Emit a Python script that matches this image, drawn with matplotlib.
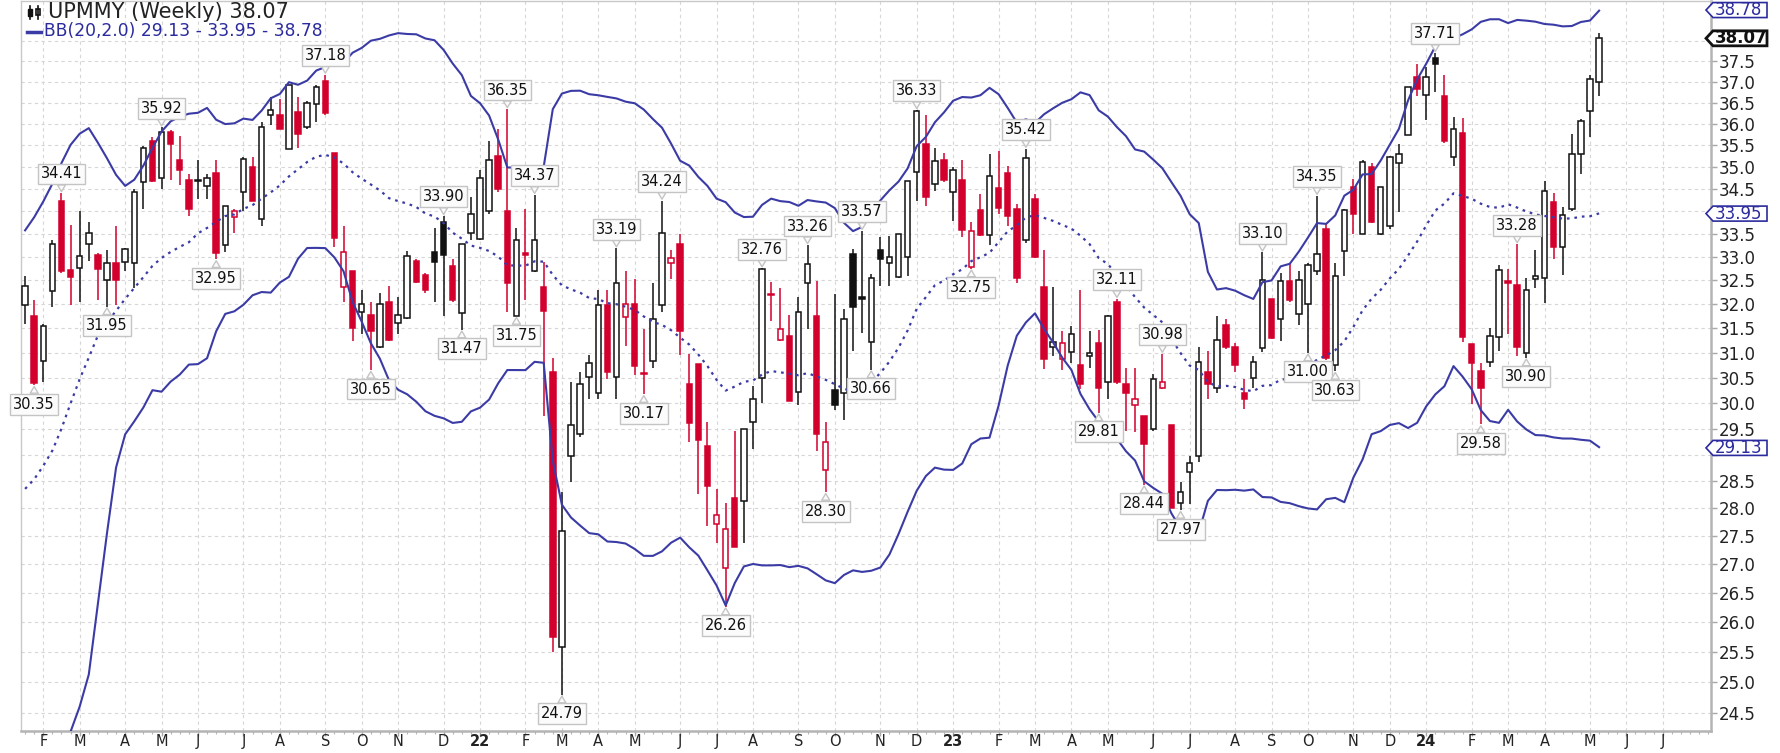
import numpy as np
import pandas as pd
import matplotlib
matplotlib.use('Agg')
import matplotlib.pyplot as plt
from matplotlib.patches import Polygon, Rectangle
from matplotlib.lines import Line2D
from matplotlib.ticker import NullLocator
from pandas.tseries.holiday import USFederalHolidayCalendar

W, H = 1781, 753
ticker = 'UPMMY'
first_week = '2021-01-18'

# weekly candles
opens = [31.99, 31.76, 30.83, 32.27, 34.22, 32.72, 32.77, 33.29, 33.05, 32.51,
         32.87, 32.90, 32.87, 34.65, 35.61, 34.76, 35.82, 35.17, 34.71, 34.68,
         34.56, 34.87, 33.26, 33.87, 34.43, 35.00, 33.82, 36.20, 36.20, 35.42,
         36.28, 35.93, 36.46, 37.03, 35.31, 32.36, 32.70, 31.83, 31.78, 31.12,
         32.04, 31.61, 31.71, 32.92, 32.61, 33.11, 33.77, 32.81, 31.81, 33.53,
         33.39, 34.00, 35.26, 34.00, 31.76, 33.08, 32.70, 32.36, 30.61, 25.57,
         28.98, 29.39, 30.52, 30.19, 31.99, 30.52, 31.73, 32.01, 30.59, 30.84,
         31.99, 32.87, 33.29, 30.37, 30.78, 29.16, 27.72, 26.94, 28.20, 28.14,
         29.62, 30.49, 32.22, 31.26, 31.34, 30.22, 32.44, 31.76, 28.72, 30.26,
         30.20, 33.06, 32.14, 31.22, 33.16, 32.87, 32.57, 33.00, 34.89, 35.53,
         34.62, 35.17, 34.43, 34.71, 32.79, 34.02, 33.47, 34.52, 34.86, 34.05,
         33.38, 34.28, 32.36, 31.12, 30.87, 31.02, 30.76, 30.93, 31.19, 30.42,
         32.04, 30.37, 29.95, 29.75, 29.50, 30.30, 29.57, 28.10, 28.68, 28.98,
         30.61, 30.30, 31.56, 31.12, 30.20, 30.50, 31.09, 32.10, 31.68, 32.49,
         31.80, 32.00, 32.69, 33.60, 30.75, 33.12, 34.55, 33.49, 35.01, 33.49,
         33.68, 35.08, 35.74, 37.12, 36.68, 37.58, 36.66, 35.22, 35.78, 31.17,
         30.64, 30.82, 31.32, 32.48, 32.41, 31.00, 32.53, 32.55, 34.20, 33.21,
         34.05, 35.30, 36.30, 37.01]
highs = [32.59, 32.09, 31.58, 33.36, 34.41, 33.70, 34.00, 33.77, 33.08, 33.16,
         33.68, 33.20, 34.49, 35.48, 35.70, 35.92, 35.85, 35.72, 34.83, 35.15,
         34.83, 35.15, 34.13, 34.06, 35.23, 35.23, 36.05, 36.63, 36.60, 36.93,
         36.63, 36.55, 36.93, 37.18, 35.31, 33.68, 32.70, 32.29, 32.04, 32.24,
         32.39, 32.14, 33.14, 32.95, 32.66, 33.63, 33.90, 32.95, 33.29, 34.31,
         34.92, 35.59, 35.87, 36.35, 33.63, 34.06, 34.37, 32.90, 30.90, 28.31,
         30.42, 30.61, 30.95, 32.29, 32.29, 33.19, 32.70, 32.54, 31.48, 32.44,
         34.24, 33.16, 33.50, 30.97, 30.78, 29.62, 28.35, 28.10, 29.45, 29.50,
         30.33, 32.76, 32.46, 32.34, 31.78, 32.14, 33.26, 32.49, 29.62, 32.22,
         31.90, 33.18, 33.57, 32.64, 33.43, 33.45, 33.50, 34.67, 36.33, 36.20,
         35.44, 35.33, 35.00, 35.15, 33.77, 34.38, 35.29, 35.36, 35.03, 34.16,
         35.42, 34.38, 33.16, 32.36, 31.45, 31.54, 32.29, 31.45, 31.46, 31.78,
         32.11, 30.70, 30.70, 29.75, 30.58, 30.98, 29.57, 28.48, 28.97, 31.11,
         31.04, 31.75, 31.68, 31.19, 30.47, 30.93, 33.10, 32.10, 32.66, 32.87,
         32.69, 32.87, 34.35, 33.75, 32.87, 34.06, 34.72, 35.17, 35.10, 34.54,
         35.25, 35.53, 36.87, 37.44, 37.36, 37.71, 37.17, 36.16, 36.14, 31.17,
         30.79, 31.50, 32.83, 32.75, 33.28, 32.56, 33.16, 34.67, 34.40, 34.10,
         35.77, 36.12, 37.18, 38.20]
lows = [31.59, 30.35, 30.42, 31.94, 32.65, 31.99, 32.04, 32.91, 32.09, 31.95,
        31.98, 32.70, 32.34, 34.06, 34.65, 34.49, 34.71, 34.60, 33.90, 34.27,
        34.27, 32.95, 33.11, 33.53, 34.00, 34.22, 33.68, 35.98, 35.87, 35.42,
        35.44, 35.87, 36.04, 36.20, 33.21, 32.04, 31.24, 31.39, 30.65, 31.09,
        31.24, 31.39, 31.69, 32.44, 32.24, 32.04, 31.76, 32.04, 31.47, 33.36,
        33.36, 33.95, 34.43, 31.83, 31.75, 32.09, 32.68, 29.75, 25.49, 24.79,
        28.48, 29.34, 30.08, 30.08, 30.47, 30.08, 31.14, 30.56, 30.17, 30.70,
        31.83, 32.54, 30.95, 29.24, 28.26, 27.68, 27.38, 26.26, 27.30, 27.38,
        29.11, 29.99, 31.65, 31.24, 30.04, 29.95, 31.48, 29.08, 28.30, 29.86,
        29.67, 31.04, 31.40, 30.66, 32.39, 32.39, 32.55, 32.59, 34.24, 34.13,
        34.45, 34.65, 33.79, 33.43, 32.75, 33.46, 33.27, 33.95, 33.68, 32.44,
        33.31, 32.97, 30.68, 30.93, 30.66, 30.80, 30.28, 30.70, 29.81, 30.08,
        30.37, 29.45, 29.43, 28.44, 29.45, 30.28, 28.00, 27.97, 28.08, 28.87,
        30.08, 30.20, 31.07, 30.61, 29.88, 30.30, 31.02, 31.27, 31.24, 32.04,
        31.56, 31.00, 32.62, 30.85, 30.63, 32.59, 33.49, 33.49, 33.74, 33.47,
        33.61, 33.99, 35.74, 36.65, 36.10, 36.75, 35.56, 35.03, 31.22, 29.98,
        29.58, 30.72, 31.04, 31.39, 30.93, 30.90, 32.34, 32.02, 32.95, 32.62,
        34.00, 34.84, 35.70, 36.65]
closes = [32.39, 30.40, 31.55, 33.29, 32.70, 32.57, 33.02, 33.53, 32.74, 32.87,
          32.51, 33.18, 34.43, 35.43, 34.67, 35.82, 35.53, 34.92, 34.06, 34.70,
          34.74, 33.08, 34.13, 34.00, 35.18, 34.24, 35.93, 36.33, 35.89, 36.93,
          35.77, 36.50, 36.89, 36.25, 33.42, 33.11, 31.51, 32.00, 31.44, 32.01,
          31.26, 31.78, 33.02, 32.46, 32.29, 32.90, 33.05, 32.09, 33.29, 33.93,
          34.76, 35.15, 34.49, 32.44, 33.36, 33.05, 33.38, 31.86, 25.74, 27.59,
          29.57, 30.37, 30.80, 31.99, 30.61, 32.44, 32.01, 30.74, 30.57, 31.68,
          33.53, 32.97, 31.44, 29.60, 29.29, 28.41, 27.88, 27.62, 27.30, 29.50,
          30.08, 32.75, 32.20, 31.49, 30.04, 31.83, 32.85, 29.39, 29.25, 29.96,
          31.70, 31.95, 32.11, 32.56, 32.95, 32.99, 33.50, 34.67, 36.31, 34.32,
          35.13, 34.71, 34.92, 33.58, 33.57, 33.47, 34.79, 34.08, 33.90, 32.56,
          35.21, 33.00, 30.87, 31.22, 31.19, 31.38, 30.37, 31.00, 30.30, 31.76,
          30.42, 30.20, 30.07, 29.20, 30.47, 30.42, 28.00, 28.30, 28.85, 30.82,
          30.37, 31.26, 31.12, 30.76, 30.07, 30.82, 32.51, 31.29, 32.48, 32.08,
          32.51, 32.82, 33.07, 30.89, 32.60, 34.02, 33.93, 35.12, 33.76, 34.54,
          35.22, 35.29, 36.87, 36.82, 37.12, 37.44, 35.60, 35.87, 31.32, 30.80,
          30.30, 31.35, 32.73, 32.45, 31.12, 32.30, 32.60, 34.46, 33.21, 33.91,
          35.30, 36.07, 37.07, 38.07]

# band values for the first weeks, before 20 closes are available
bb_upper_start = [33.58, 33.87, 34.22, 34.62, 35.09, 35.51, 35.77, 35.90, 35.56, 35.20,
                  34.82, 34.57, 34.71, 35.03, 35.44, 35.82, 36.06, 36.17, 36.24]
bb_mid_start = [28.36, 28.54, 28.79, 29.08, 29.50, 29.99, 30.47, 30.90, 31.35, 31.62,
                31.86, 32.11, 32.34, 32.57, 32.81, 32.98, 33.11, 33.22, 33.32]
bb_lower_start = [np.nan, np.nan, np.nan, np.nan, 23.70, 24.20, 24.60, 25.12, 26.30, 27.55,
                  28.76, 29.39, 29.64, 29.91, 30.25, 30.22, 30.42, 30.56, 30.76]

# last band values (lower, middle, upper)
bb_last = [29.13, 33.95, 38.78]

# labelled swing highs / lows: (week, 'H' or 'L')
callouts = [(1, 'L'), (4, 'H'), (9, 'L'), (15, 'H'), (21, 'L'), (33, 'H'), (38, 'L'),
            (46, 'H'), (48, 'L'), (53, 'H'), (54, 'L'), (56, 'H'), (59, 'L'), (65, 'H'),
            (68, 'L'), (70, 'H'), (77, 'L'), (81, 'H'), (86, 'H'), (88, 'L'), (92, 'H'),
            (93, 'L'), (98, 'H'), (104, 'L'), (110, 'H'), (118, 'L'), (120, 'H'),
            (123, 'L'), (125, 'H'), (127, 'L'), (136, 'H'), (141, 'L'), (142, 'H'),
            (144, 'L'), (155, 'H'), (160, 'L'), (164, 'H'), (165, 'L')]

o = np.array(opens)
h = np.array(highs)
l = np.array(lows)
c = np.array(closes)
n = len(c)
x = np.arange(n)

# Bollinger bands (20, 2.0)
s = pd.Series(c)
bb_mid = s.rolling(20).mean().to_numpy()
bb_sd = s.rolling(20).std(ddof=0).to_numpy()
bb_upper = bb_mid + 2 * bb_sd
bb_lower = bb_mid - 2 * bb_sd
k = len(bb_mid_start)
bb_mid[:k] = bb_mid_start
bb_upper[:k] = bb_upper_start
bb_lower[:k] = bb_lower_start

red = '#d3002d'
ink = '#111111'
bb_col = '#3b3ba6'
grid_col = '#d6d6d6'

fig = plt.figure(figsize=(W / 100, H / 100), dpi=100)
fig.patch.set_facecolor('white')
ax = fig.add_axes([21 / W, 22 / H, 1690 / W, 730 / H])
ax.set_yscale('log')
ax.set_xlim(-0.45, 185.3)
ax.set_ylim(24.21, 39.01)

# candles: red when the close is below the prior close, hollow when close > open
prev = np.r_[c[0], c[:-1]]
col = np.where(c < prev, red, ink)
face = np.where(c > o, 'white', col)
body_lo = np.minimum(o, c)
body_h = np.maximum(np.abs(c - o), 0.015)
ax.vlines(x, l, h, colors=col, linewidth=1.1, zorder=2)
ax.bar(x, body_h, bottom=body_lo, width=0.6, color=face, edgecolor=col,
       linewidth=1.1, zorder=3)

ax.plot(x, bb_upper, color=bb_col, lw=1.5, zorder=4)
ax.plot(x, bb_lower, color=bb_col, lw=1.5, zorder=4)
ax.plot(x, bb_mid, color=bb_col, lw=1.6, ls=(0, (1.2, 2.2)), zorder=4)

# month ticks at the first bar of each month
weeks = pd.date_range(first_week, periods=184, freq='W-MON')
hol = set(USFederalHolidayCalendar().holidays('2021-01-01', '2024-12-31'))
first_day = [d + pd.Timedelta(days=1) if d in hol else d for d in weeks]
tick_pos, tick_lab = [], []
for i in range(1, len(first_day)):
    if first_day[i].month != first_day[i - 1].month:
        tick_pos.append(i)
        if first_day[i].month == 1:
            tick_lab.append(first_day[i].strftime('%y'))
        else:
            tick_lab.append(first_day[i].strftime('%b')[0])

ax.set_xticks(tick_pos)
ax.set_xticklabels(tick_lab)
ax.set_xticks(np.arange(0, 186), minor=True)
for lab in ax.get_xticklabels():
    if lab.get_text().isdigit():
        lab.set_fontweight('bold')
        lab.set_fontsize(12.5)
ax.tick_params(axis='x', which='major', length=3.5, width=1, color='#a8a8a8',
               labelsize=10.5, pad=-1.5, labelcolor='#222222')
ax.tick_params(axis='x', which='minor', length=2.2, width=0.8, color='#b4b4b4')

# price scale; the tags on the right cover the nearest round values
tag_values = [bb_last[2], c[-1], bb_last[1], bb_last[0]]
yt = np.arange(24.5, 38.01, 0.5)
ax.yaxis.tick_right()
ax.set_yticks(yt)
ylabs = []
for v in yt:
    hidden = any(abs(np.log(v / t)) < 0.006 for t in tag_values)
    ylabs.append('' if hidden else f'{v:.1f}')
ax.set_yticklabels(ylabs)
ax.yaxis.set_minor_locator(NullLocator())
ax.tick_params(axis='y', which='major', length=4, width=1, color='#a8a8a8',
               labelsize=12, pad=1.5, labelcolor='#222222')

ax.grid(True, which='major', color=grid_col, linestyle=(0, (3, 3)), linewidth=0.8)
ax.set_axisbelow(True)
for side in ['left', 'top']:
    ax.spines[side].set_color('#c8c8c8')
    ax.spines[side].set_linewidth(1)
for side in ['right', 'bottom']:
    ax.spines[side].set_color('#b4b4b4')
    ax.spines[side].set_linewidth(1.8)

# high / low callouts
for i, kind in callouts:
    v = h[i] if kind == 'H' else l[i]
    dy = 19 if kind == 'H' else -19
    ax.annotate(f'{v:.2f}', xy=(i, v), xytext=(0, dy), textcoords='offset pixels',
                ha='center', va='center', fontsize=10.5, color='#111111',
                bbox=dict(boxstyle='square,pad=0.2', fc='#fbfbfb', ec='#c4c4c4', lw=1),
                arrowprops=dict(arrowstyle='wedge,tail_width=0.55,shrink_factor=0.5',
                                fc='#fbfbfb', ec='#c4c4c4', lw=1, shrinkA=0, shrinkB=1),
                zorder=6)


# value tags on the right edge
def tag(val, edge, tcolor, weight, lw):
    yd = ax.transData.transform((0, val))[1]
    xs = [1706, 1713, 1767, 1767, 1713]
    ys = [yd, yd + 7.5, yd + 7.5, yd - 7.5, yd - 7.5]
    verts = [(xx / W, yy / H) for xx, yy in zip(xs, ys)]
    fig.add_artist(Polygon(verts, closed=True, transform=fig.transFigure,
                           fc='white', ec=edge, lw=lw, zorder=10))
    fig.text(1715 / W, yd / H, f'{val:.2f}', ha='left', va='center', fontsize=12,
             color=tcolor, fontweight=weight, zorder=11)


tag(bb_last[2], '#2b2b9e', '#2b2b9e', 'normal', 1.2)
tag(c[-1], '#111111', '#111111', 'bold', 2.0)
tag(bb_last[1], '#2b2b9e', '#2b2b9e', 'normal', 1.2)
tag(bb_last[0], '#2b2b9e', '#2b2b9e', 'normal', 1.2)

# legend, top left
fig.add_artist(Line2D([30 / W, 30 / W], [1 - 6 / H, 1 - 19 / H], color=ink, lw=1.2))
fig.add_artist(Rectangle((28 / W, 1 - 16 / H), 4.5 / W, 7 / H, transform=fig.transFigure,
                         fc=ink, ec=ink, lw=1))
fig.add_artist(Line2D([38 / W, 38 / W], [1 - 6 / H, 1 - 19 / H], color=ink, lw=1.2))
fig.add_artist(Rectangle((36 / W, 1 - 15 / H), 4.5 / W, 6 / H, transform=fig.transFigure,
                         fc='white', ec=ink, lw=1.2))
fig.text(48 / W, 1 - 12.5 / H, f'{ticker} (Weekly) {c[-1]:.2f}', fontsize=15,
         ha='left', va='center', color='#222222')
fig.add_artist(Line2D([27 / W, 41 / W], [1 - 31.5 / H, 1 - 31.5 / H], color=bb_col, lw=2.5))
fig.text(44 / W, 1 - 31.5 / H,
         f'BB(20,2.0) {bb_last[0]:.2f} - {bb_last[1]:.2f} - {bb_last[2]:.2f}',
         fontsize=12.3, ha='left', va='center', color='#2b2b9e')

fig.savefig('out.png', dpi=100)
